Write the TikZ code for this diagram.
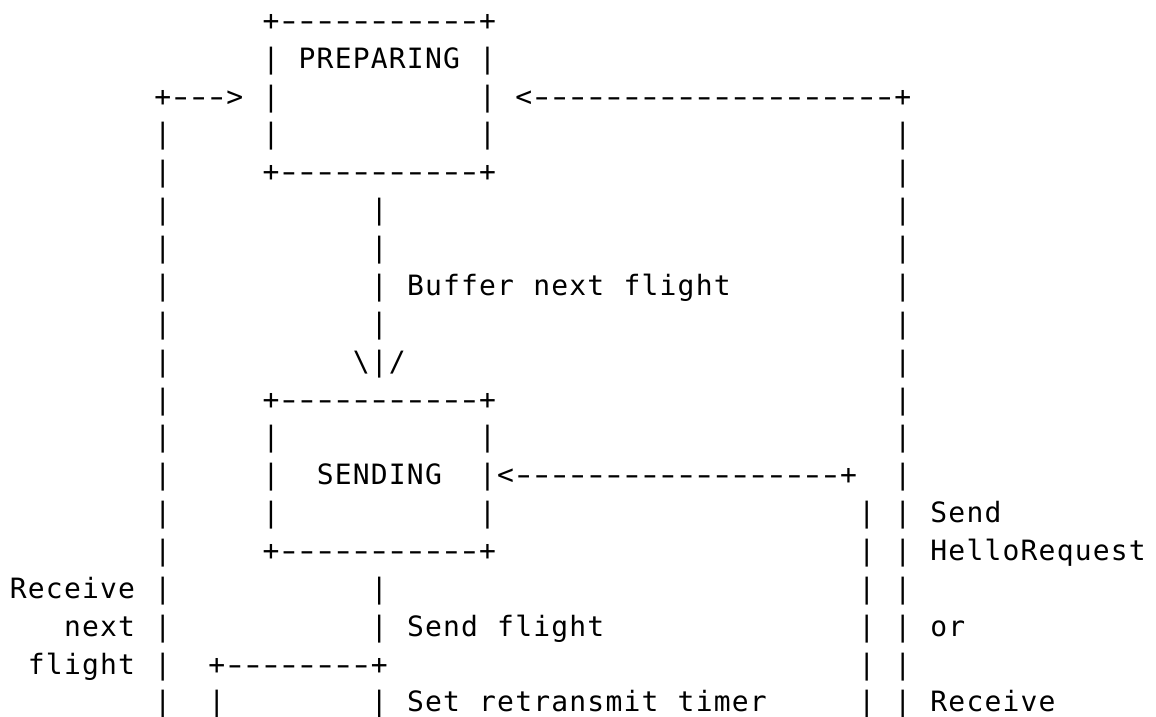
\documentclass[tikz,border=0pt]{standalone}
\usepackage{fontspec}
\newfontfamily\asc{DejaVu Sans Mono}
\newlength\cw
\setlength\cw{18.05pt}
\newcommand\bsl{\textbackslash}
\def\mlcell#1{\ifx.#1\hbox to\cw{}\else\ifx-#1\hbox to\cw{\hss\scalebox{1.5}[1]{-}\hss}\else\hbox to\cw{\hss#1\hss}\fi\fi}
\def\mlloop#1{\ifx\relax#1\else\mlcell{#1}\expandafter\mlloop\fi}
\def\ml#1{\mlloop#1\relax}
\tikzset{txt/.style={inner sep=0pt, outer sep=0pt, anchor=base west, font=\asc\fontsize{28pt}{32pt}\selectfont}}
% #1 name, #2 row, #3 column, #4 characters ('.' = blank cell)
\newcommand\fr[4]{\node[txt] (#1) at ({9.3+18.05*#3},{-30.4-37.86*(#2-1)}) {\ml{#4}};}
\begin{document}
\begin{tikzpicture}[x=1pt,y=1pt]
\fill[white] (0,0) rectangle (1156,-716);
\useasboundingbox (0,0) rectangle (1156,-716);
% row 1-2: PREPARING box
\fr{r1c14}{1}{14}{+-----------+}
\fr{r2c14}{2}{14}{|}
\fr{r2c16}{2}{16}{PREPARING}
\fr{r2c26}{2}{26}{|}
% row 3
\fr{r3c8}{3}{8}{+--->}
\fr{r3c14}{3}{14}{|}
\fr{r3c26}{3}{26}{|}
\fr{r3c28}{3}{28}{<--------------------+}
% row 4
\fr{r4c8}{4}{8}{|}
\fr{r4c14}{4}{14}{|}
\fr{r4c26}{4}{26}{|}
\fr{r4c49}{4}{49}{|}
% row 5
\fr{r5c8}{5}{8}{|}
\fr{r5c14}{5}{14}{+-----------+}
\fr{r5c49}{5}{49}{|}
% rows 6-9
\fr{r6c8}{6}{8}{|}
\fr{r6c20}{6}{20}{|}
\fr{r6c49}{6}{49}{|}
\fr{r7c8}{7}{8}{|}
\fr{r7c20}{7}{20}{|}
\fr{r7c49}{7}{49}{|}
\fr{r8c8}{8}{8}{|}
\fr{r8c20}{8}{20}{|}
\fr{r8c22}{8}{22}{Buffer.next.flight}
\fr{r8c49}{8}{49}{|}
\fr{r9c8}{9}{8}{|}
\fr{r9c20}{9}{20}{|}
\fr{r9c49}{9}{49}{|}
% row 10
\fr{r10c8}{10}{8}{|}
\fr{r10c19}{10}{19}{\bsl|/}
\fr{r10c49}{10}{49}{|}
% rows 11-15: SENDING box
\fr{r11c8}{11}{8}{|}
\fr{r11c14}{11}{14}{+-----------+}
\fr{r11c49}{11}{49}{|}
\fr{r12c8}{12}{8}{|}
\fr{r12c14}{12}{14}{|}
\fr{r12c26}{12}{26}{|}
\fr{r12c49}{12}{49}{|}
\fr{r13c8}{13}{8}{|}
\fr{r13c14}{13}{14}{|}
\fr{r13c17}{13}{17}{SENDING}
\fr{r13c26}{13}{26}{|<------------------+}
\fr{r13c49}{13}{49}{|}
\fr{r14c8}{14}{8}{|}
\fr{r14c14}{14}{14}{|}
\fr{r14c26}{14}{26}{|}
\fr{r14c47}{14}{47}{|}
\fr{r14c49}{14}{49}{|}
\fr{r14c51}{14}{51}{Send}
\fr{r15c8}{15}{8}{|}
\fr{r15c14}{15}{14}{+-----------+}
\fr{r15c47}{15}{47}{|}
\fr{r15c49}{15}{49}{|}
\fr{r15c51}{15}{51}{HelloRequest}
% rows 16-19
\fr{r16c0}{16}{0}{Receive}
\fr{r16c8}{16}{8}{|}
\fr{r16c20}{16}{20}{|}
\fr{r16c47}{16}{47}{|}
\fr{r16c49}{16}{49}{|}
\fr{r17c3}{17}{3}{next}
\fr{r17c8}{17}{8}{|}
\fr{r17c20}{17}{20}{|}
\fr{r17c22}{17}{22}{Send.flight}
\fr{r17c47}{17}{47}{|}
\fr{r17c49}{17}{49}{|}
\fr{r17c51}{17}{51}{or}
\fr{r18c1}{18}{1}{flight}
\fr{r18c8}{18}{8}{|}
\fr{r18c11}{18}{11}{+--------+}
\fr{r18c47}{18}{47}{|}
\fr{r18c49}{18}{49}{|}
\fr{r19c8}{19}{8}{|}
\fr{r19c11}{19}{11}{|}
\fr{r19c20}{19}{20}{|}
\fr{r19c22}{19}{22}{Set.retransmit.timer}
\fr{r19c47}{19}{47}{|}
\fr{r19c49}{19}{49}{|}
\fr{r19c51}{19}{51}{Receive}
\end{tikzpicture}
\end{document}
